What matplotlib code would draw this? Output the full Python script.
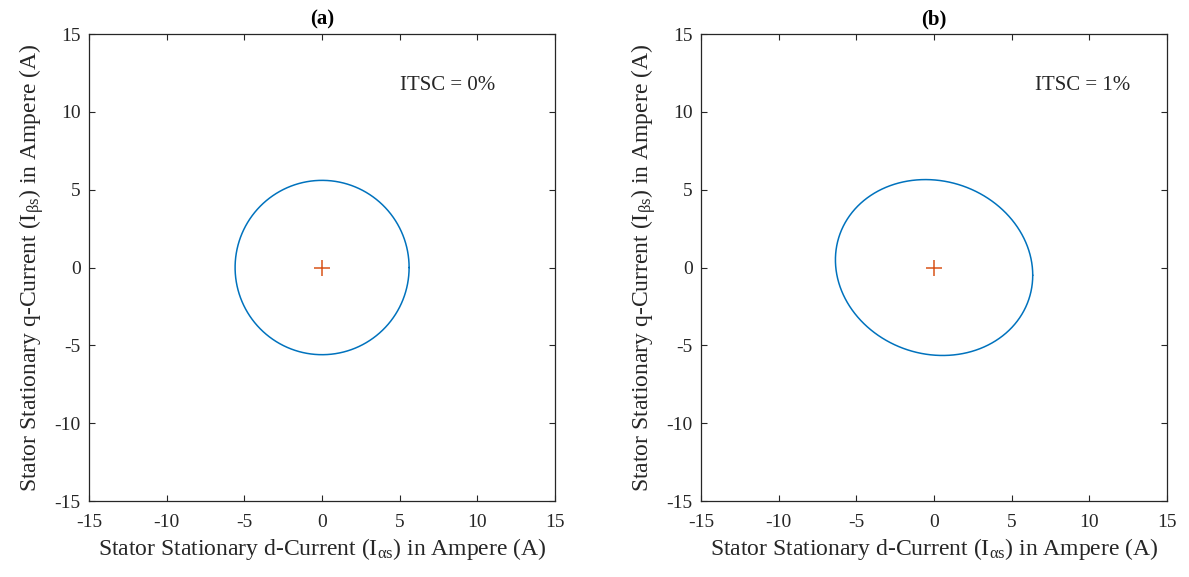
import numpy as np
import matplotlib.pyplot as plt

plt.rcParams['font.family'] = ['Liberation Serif', 'DejaVu Serif']
plt.rcParams['mathtext.fontset'] = 'custom'
plt.rcParams['mathtext.rm'] = 'Liberation Serif'
plt.rcParams['mathtext.it'] = 'Liberation Serif:italic'
plt.rcParams['axes.unicode_minus'] = False

# Values: peak d/q currents (A) and phase shift of q (deg)
panels = ["(a)", "(b)"]
itsc_labels = ["ITSC = 0%", "ITSC = 1%"]
amp_d = [5.6, 6.35]
amp_q = [5.6, 5.65]
phase_q = [0.0, 5.0]
label_x = [5.0, 6.5]
label_y = [11.7, 11.7]
ticks = [-15, -10, -5, 0, 5, 10, 15]

blue = "#0072BD"
red = "#D95319"
dark = "#262626"

fig = plt.figure(figsize=(11.89, 5.77), dpi=100)
lefts = [0.0749, 0.5896]
width = 0.392
bottom, height = 0.1317, 0.8093

theta = np.linspace(0, 2 * np.pi, 400)  # one electrical cycle

for i in range(2):
    ax = fig.add_axes([lefts[i], bottom, width, height])
    i_d = amp_d[i] * np.cos(theta)
    i_q = amp_q[i] * np.sin(theta - np.deg2rad(phase_q[i]))
    ax.plot(i_d, i_q, color=blue, lw=1.1, solid_joinstyle="round", solid_capstyle="round")
    ax.plot([0], [0], marker="+", color=red, ms=11, mew=1.1, ls="none")
    ax.text(label_x[i], label_y[i], itsc_labels[i], fontsize=15, va="center", ha="left", color=dark)

    ax.set_xlim(-15, 15)
    ax.set_ylim(-15, 15)
    ax.set_xticks(ticks)
    ax.set_yticks(ticks)
    ax.tick_params(direction="in", top=True, right=True, labelsize=14, length=4,
                   width=0.8, colors=dark)
    ax.tick_params(axis="x", pad=9)
    ax.tick_params(axis="y", pad=6)
    for s in ax.spines.values():
        s.set_linewidth(0.9)
        s.set_color(dark)
    ax.set_title(panels[i], fontsize=15, fontweight="bold", pad=7)
    ax.set_xlabel(r"Stator Stationary d-Current (I$_{\mathrm{\alpha s}}$) in Ampere (A)", fontsize=17, color=dark, labelpad=4)
    ax.set_ylabel(r"Stator Stationary q-Current (I$_{\mathrm{\beta s}}$) in Ampere (A)", fontsize=17, color=dark, labelpad=6)

fig.savefig("out.png", dpi=100)
